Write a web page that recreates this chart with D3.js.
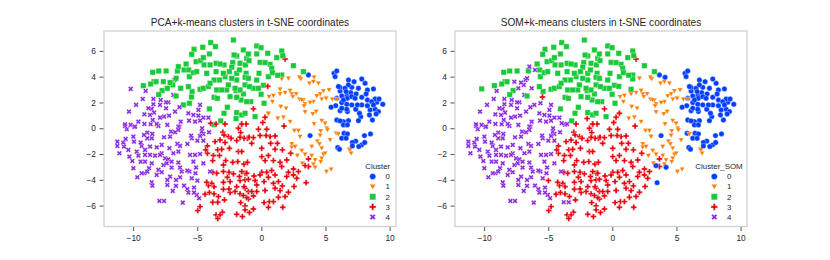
<!DOCTYPE html>
<html>
<head>
<meta charset="utf-8">
<script src="https://cdn.jsdelivr.net/npm/d3@7"></script>
<style>
	body { margin: 0; background: #fff; }
	text { font-family: "Liberation Sans", Arial, sans-serif; fill: #262626; }
</style>
</head>
<body>
<div id="chart"></div>
<script>

// t-SNE coordinates, grouped by PCA label then SOM label (pXsY)
const p0s0X = [3.67,5.88,5.67,5.75,6.79,7.23,7.83,8.09,6.79,6.01,6.14,6.53,7.05,7.57,8.74,8.27,6.14,6.61,6.97,7.39,8.17,6.27,6.66,7.05,5.88,6.40,6.71,7.31,7.83,8.27,8.87,9.18,9.47,9.00,8.61,6.27,6.66,7.05,7.49,7.83,8.27,8.74,5.80,5.44,6.27,6.66,7.36,8.48,8.87,9.13,8.95,7.65,8.43,7.75,6.14,6.71,8.66,7.57,5.88,6.14,6.40,6.79,6.71,6.40,3.80,6.45,6.71,6.27,6.61,8.04,8.51,7.36,7.10,8.06,7.83,7.10,7.60,5.96,6.09];
const p0s0Y = [4.13,4.44,4.26,4.00,3.74,3.61,3.82,3.49,3.36,3.23,3.17,3.10,3.17,3.10,3.05,2.97,2.89,2.84,2.76,2.66,2.66,2.50,2.50,2.45,2.32,2.19,2.32,2.32,2.40,2.19,2.27,2.27,1.86,2.01,2.06,1.99,1.86,1.81,1.81,1.81,1.75,1.81,1.75,1.63,1.55,1.47,1.47,1.42,1.47,1.29,1.11,1.16,1.03,0.90,1.36,1.29,0.64,0.59,0.64,0.57,0.51,0.59,0.26,0.26,-0.57,-0.39,-0.44,-0.78,-0.78,-0.57,-0.44,-1.00,-1.11,-1.11,-1.29,-1.37,-1.42,-1.50,-1.63];

const p1s1X = [2.11,2.97,3.07,3.75,4.06,4.45,5.28,4.84,4.58,4.32,4.71,5.05,5.54,5.88,1.85,2.24,2.37,2.45,2.71,2.97,3.28,0.94,0.60,1.46,0.86,3.15,3.41,3.80,4.06,3.33,1.51,1.93,3.41,0.55,4.27,4.01,1.72,1.28,2.24,4.71,4.97,4.11,5.10,5.15,2.58,2.89,3.02,4.63,4.58,6.00,5.36,4.37,4.53,2.37,2.63,2.37,3.93,4.71,3.15,3.41,2.81,3.93,4.97,4.84,4.71,4.63,4.19,3.20,4.06,5.07,5.44,6.92,7.00,6.84];
const p1s1Y = [3.87,3.95,3.82,3.49,3.61,3.49,2.97,2.89,2.66,2.50,2.25,2.32,2.25,2.27,2.76,2.92,2.66,2.45,2.66,2.25,2.19,2.53,2.45,2.66,2.06,2.19,1.88,1.99,2.06,1.73,1.68,1.55,1.26,1.10,1.29,1.11,0.85,0.77,0.51,0.59,0.38,0.33,0.00,-0.13,-0.18,-0.18,-0.65,-0.21,-0.55,-0.45,-0.91,-1.00,-1.22,-1.22,-1.42,-1.48,-1.42,-1.55,-1.73,-2.02,-2.12,-2.12,-1.94,-2.02,-2.33,-2.59,-2.46,-2.72,-2.79,-3.36,-3.18,-1.68,-1.94,-1.63];

const p2s2X = [-2.18,-3.95,-3.58,-4.57,-5.25,-5.43,-4.05,-4.52,-2.13,-1.40,-1.92,-1.14,-5.09,-4.73,-5.87,-4.47,-4.00,-3.53,-3.22,-2.91,-2.23,-2.31,-1.66,-1.24,-1.71,-1.19,-8.47,-8.00,-7.43,-6.55,-5.66,-5.30,-5.04,-4.26,-3.53,-2.96,-2.49,-1.92,-5.61,-8.37,-8.63,-9.20,-8.21,-5.69,-8.00,-7.74,-6.65,-5.40,-4.05,-4.78,-4.52,-4.13,-3.69,-3.27,-2.83,-2.31,-1.92,-2.57,-2.05,-1.27,-3.48,-3.09,-2.70,-1.97,-3.69,-3.43,-2.44,-1.92,-1.14,-1.40,-2.65,-2.91,-1.92,-1.27,-3.17,-4.00,-0.36,-0.02,0.50,1.59,1.67,1.20,-0.36,-1.01,-0.96,-0.10,0.29,0.68,0.81,0.86,-0.18,1.28,1.59,0.55,-0.36,-1.01,-1.27,2.50,3.28,0.16,-0.23,-0.62,-0.93,-0.02,-1.66,-0.83,0.21,-1.58,-1.53,-0.49];
const p2s2Y = [6.84,6.64,6.33,6.28,6.12,5.73,5.76,5.48,5.68,6.07,5.60,5.42,5.16,5.24,4.98,4.91,4.91,5.04,4.98,4.91,5.09,4.73,5.04,4.91,4.52,4.26,4.34,4.44,4.44,4.44,4.52,4.31,4.39,4.26,4.39,4.26,4.39,4.26,4.00,3.61,3.43,3.30,3.61,3.23,2.61,2.92,2.50,2.85,1.50,3.02,3.10,3.23,3.74,3.74,4.00,3.87,3.74,3.36,3.10,3.36,2.97,2.97,2.97,2.92,2.40,2.32,2.45,2.40,2.06,2.66,1.63,1.16,1.21,1.16,0.57,3.49,6.38,6.25,5.81,5.99,5.63,5.48,5.76,5.76,5.24,5.11,5.09,4.96,4.65,4.31,4.26,4.11,4.13,4.00,3.74,3.87,3.95,4.85,4.39,3.33,3.10,3.10,3.23,2.63,2.97,2.06,1.94,2.19,1.03,0.90];

const p3s3X = [-3.00,-2.91,-3.61,-3.22,-2.57,-2.36,-1.61,-1.66,-1.09,-1.92,-2.83,-4.21,-4.34,-4.21,-3.40,-3.09,-2.49,-1.53,-1.79,-3.74,-3.27,-3.79,-2.78,-2.96,-2.23,-1.84,-1.35,-1.09,-3.79,-3.48,-2.96,-2.52,-2.18,-1.53,-1.27,-2.65,-1.71,-2.96,-2.44,-1.27,-1.66,-4.26,-3.87,-3.69,-4.13,-2.96,-2.52,-1.92,-1.35,-4.05,-4.39,-3.69,-2.44,-2.05,-1.66,-1.01,-3.35,-2.88,-1.14,-1.61,-1.27,-4.78,-4.96,-3.04,-3.22,-3.53,-3.40,-1.92,-1.48,0.11,-0.23,-0.10,-0.62,-0.96,-1.35,-0.75,0.37,0.68,1.07,1.25,0.73,0.03,1.64,1.07,2.29,0.55,0.03,3.67,0.29,0.94,1.46,1.98,3.67,1.59,-1.35,0.81,0.42,0.03,2.11,2.50,2.89,2.50,1.98,2.76,1.07,0.55,-0.10,-0.57,-1.14,-1.01,-0.49,0.21,1.33,1.64,2.55,0.94,1.07,-0.36,-0.75,-0.36,0.29,1.46,2.11,1.85,1.33,-1.27,-1.40,-0.62,-1.01,0.21,0.63,0.94,0.55,1.67,-0.62,-0.93,-1.27,1.85,-0.62,0.29,-1.19,-1.53,1.77,0.42,-2.83,-1.79,-1.53];
const p3s3Y = [-0.31,-0.52,-1.04,-0.91,-0.65,-0.78,-0.34,-0.70,-0.78,-0.96,-1.11,-1.37,-1.68,-1.94,-1.68,-1.63,-1.55,-1.81,-1.81,-2.12,-2.12,-2.51,-2.51,-2.85,-2.64,-2.59,-2.79,-2.64,-3.41,-3.49,-3.36,-3.41,-3.54,-3.36,-3.49,-3.80,-3.75,-4.19,-4.14,-4.01,-4.06,-4.19,-4.27,-4.53,-4.45,-4.73,-4.71,-4.53,-4.53,-4.99,-5.12,-5.09,-4.99,-4.91,-5.09,-4.91,-5.30,-5.56,-5.38,-5.77,-6.02,-6.08,-6.39,-6.51,-6.72,-6.72,-7.00,-6.67,-6.85,0.44,-0.08,-0.57,-0.73,-0.70,-0.78,-1.17,-0.57,-0.65,-0.60,-1.17,-1.17,-1.55,-1.68,-1.63,-1.94,-2.12,-2.20,-2.38,-2.51,-2.51,-2.64,-2.46,-2.97,-2.97,-2.77,-3.28,-3.41,-3.41,-3.41,-3.16,-3.36,-3.62,-3.75,-3.88,-3.62,-3.80,-3.62,-3.70,-3.49,-3.96,-4.06,-4.14,-4.14,-4.47,-4.52,-4.27,-4.65,-4.40,-4.91,-4.91,-4.83,-4.84,-4.96,-5.30,-5.35,-4.65,-5.22,-5.25,-5.48,-5.77,-5.69,-5.69,-6.13,-6.13,-6.26,-6.54,-6.33,5.37,1.50,0.85,0.33,0.33,0.17,-0.08,0.33,0.00,0.31];

const p4s4X = [-9.02,-9.25,-9.77,-10.32,-8.42,-7.85,-7.43,-7.25,-6.86,-6.78,-8.42,-8.81,-9.12,-8.55,-8.37,-7.90,-7.43,-6.73,-6.39,-8.68,-7.90,-7.59,-7.20,-5.69,-4.91,-4.78,-5.30,-4.91,-4.52,-4.13,-9.59,-10.63,-10.19,-9.90,-9.12,-8.63,-8.47,-8.16,-7.33,-6.29,-6.39,-5.64,-5.17,-4.78,-4.62,-10.63,-9.85,-8.03,-6.47,-10.50,-6.47,-6.73,-7.04,-7.12,-7.59,-8.89,-8.50,-9.15,-8.89,-8.55,-9.98,-9.93,-10.58,-10.76,-11.23,-11.23,-10.71,-11.07,-10.37,-9.72,-9.59,-10.29,-10.06,-9.98,-9.41,-9.33,-9.07,-8.68,-8.16,-7.77,-9.07,-8.68,-8.29,-7.77,-7.90,-9.41,-9.07,-8.55,-7.17,-6.86,-6.55,-6.34,-5.77,-6.47,-5.48,-5.43,-4.99,-4.65,-4.52,-4.08,-4.52,-4.78,-5.56,-5.17,-4.78,-5.30,-4.52,-5.09,-7.51,-7.25,-7.64,-7.00,-7.38,-6.47,-6.34,-7.00,-6.21,-5.77,-5.61,-5.14,-8.03,-7.77,-8.16,-8.89,-9.33,-9.12,-9.67,-8.76,-7.12,-7.33,-6.65,-6.34,-5.43,-8.55,-8.50,-7.33,-6.65,-6.03,-5.77,-6.91,-5.25,-5.69,-5.25,-5.04,-4.86,-7.95,-7.59,-6.13,-4.00];
const p4s4Y = [2.89,2.27,1.81,1.29,2.27,2.19,2.01,2.01,2.58,3.74,1.86,1.55,1.08,1.50,1.21,1.81,1.55,1.29,1.63,1.03,0.82,0.90,0.98,1.16,1.42,1.81,1.03,0.98,0.82,0.82,0.51,0.31,0.26,0.10,0.33,0.31,0.64,0.33,0.26,0.51,0.12,0.59,0.51,0.59,0.00,0.18,0.13,0.18,0.13,-0.08,-0.13,-0.31,-0.26,-0.65,-0.70,-0.34,-0.44,-0.52,-0.78,-0.78,-0.65,-1.04,-0.83,-1.11,-1.04,-1.37,-1.42,-1.94,-1.68,-1.81,-2.12,-2.20,-2.54,-3.10,-1.11,-1.37,-1.68,-1.42,-1.48,-1.29,-2.07,-2.07,-2.12,-1.94,-2.07,-2.59,-2.59,-2.72,-1.55,-1.94,-1.22,-1.37,-1.22,-1.81,-0.57,-0.78,-0.96,-0.26,-0.44,-0.31,-0.96,-0.60,-2.07,-2.07,-2.00,-2.59,-2.72,-3.05,-2.33,-2.41,-2.85,-2.59,-2.72,-2.66,-3.05,-3.05,-3.36,-3.28,-3.36,-3.49,-3.23,-3.41,-3.62,-3.36,-3.49,-3.49,-3.80,-3.10,-3.75,-4.01,-4.01,-3.80,-3.88,-4.19,-4.45,-4.40,-4.47,-4.45,-4.73,-4.86,-4.60,-4.99,-4.99,-5.17,-5.43,-5.64,-5.64,-5.77,-3.36];

// points the two clusterings disagree on
const p1s0X = [4.11,5.83,4.19];
const p1s0Y = [3.95,-0.39,-3.03];
const p1s2X = [1.59,1.46];
const p1s2Y = [3.82,3.02];
const p1s3X = [0.55];
const p1s3Y = [1.16];
const p2s3X = [-5.45,-1.97];
const p2s3Y = [2.42,0.75];
const p2s4X = [-6.47,-6.03,-6.65,-7.64,-7.12,-7.33,-6.91,-6.29,-6.08,-5.61,-3.69];
const p2s4Y = [4.78,4.52,3.87,3.61,3.54,3.10,3.36,3.10,1.81,1.94,0.28];
const p3s0X = [3.41,3.49];
const p3s0Y = [-2.90,-4.22];
const p3s2X = [0.50];
const p3s2Y = [3.25];
const p3s4X = [-3.95,-3.53,-3.79,-3.40];
const p3s4Y = [0.39,0.33,-5.74,-5.74];
const p4s2X = [-10.19];
const p4s2Y = [3.05];
const p4s3X = [-4.99];
const p4s3Y = [-4.06];

const clusterLabels = ['0','1','2','3','4'];
const clusterColors = ['#023eff','#ff7c00','#1ac938','#e8000b','#8b2be2'];
const xTicks = [-10,-5,0,5,10];
const yTicks = [-6,-4,-2,0,2,4,6];

const groups = [
	[0,0,p0s0X,p0s0Y],[1,1,p1s1X,p1s1Y],[2,2,p2s2X,p2s2Y],[3,3,p3s3X,p3s3Y],[4,4,p4s4X,p4s4Y],
	[1,0,p1s0X,p1s0Y],[1,2,p1s2X,p1s2Y],[1,3,p1s3X,p1s3Y],[2,3,p2s3X,p2s3Y],[2,4,p2s4X,p2s4Y],
	[3,0,p3s0X,p3s0Y],[3,2,p3s2X,p3s2Y],[3,4,p3s4X,p3s4Y],[4,2,p4s2X,p4s2Y],[4,3,p4s3X,p4s3Y]
];
const points = groups.flatMap(([pca,som,xs,ys]) => xs.map((x,i) => ({x, y:ys[i], pca, som})));
// mix the drawing order a bit, the way a dataframe would, without any randomness
points.sort((a,b) => ((a.x*97+a.y*131)%7) - ((b.x*97+b.y*131)%7));

const W = 830, H = 260;
const svg = d3.select('#chart').append('svg').attr('width', W).attr('height', H);

// marker paths: o, v, s, P, X
const markerPaths = [
	d3.symbol(d3.symbolCircle, 23)(),
	'M-2.6,-2L2.6,-2L0,2.6Z',
	d3.symbol(d3.symbolSquare, 30)(),
	d3.symbol(d3.symbolCross, 19)(),
	d3.symbol(d3.symbolCross, 17)()
];
const markerRotate = [0,0,0,0,45];

function marker(sel, cluster, scale){
	sel.attr('d', markerPaths[cluster])
		.style('fill', clusterColors[cluster])
		.style('stroke', '#fff')
		.style('stroke-width', 0.35);
}

function panel(opts){

	const xScale = d3.scaleLinear().domain([-12.27,10.5]).range([opts.left, opts.left+292]);
	const yScale = d3.scaleLinear().domain([-7.62,7.54]).range([226.5,31]);

	const g = svg.append('g');

	// points
	g.selectAll('.pt')
		.data(points)
		.enter()
		.append('path')
		.attr('class','pt')
		.attr('transform', d => `translate(${xScale(d.x)},${yScale(d.y)}) rotate(${markerRotate[d[opts.key]]})`)
		.each(function(d){ marker(d3.select(this), d[opts.key]); });

	// axes
	const xAxis = d3.axisBottom(xScale).tickValues(xTicks).tickSize(4.5).tickPadding(4)
		.tickFormat(d => String(d).replace('-','\u2212'));
	const yAxis = d3.axisLeft(yScale).tickValues(yTicks).tickSize(4.5).tickPadding(3.5)
		.tickFormat(d => String(d).replace('-','\u2212'));
	const ax = g.append('g').attr('transform','translate(0,226.5)').call(xAxis);
	const ay = g.append('g').attr('transform',`translate(${opts.left},0)`).call(yAxis);
	[ax,ay].forEach(a => {
		a.select('.domain').remove();
		a.selectAll('line').style('stroke','#262626').style('stroke-width',0.8);
		a.selectAll('text').style('font-size','8.4px').style('font-family','"Liberation Sans", Arial, sans-serif').style('fill','#262626');
	});

	// frame
	g.append('rect')
		.attr('x', opts.left).attr('y', 31)
		.attr('width', 292).attr('height', 195.5)
		.style('fill','none').style('stroke','#cfcfcf').style('stroke-width',1.25);

	g.append('text')
		.attr('x', opts.left+146).attr('y', 26)
		.attr('text-anchor','middle')
		.style('font-size','10.1px')
		.text(opts.title);

	// legend
	g.append('text')
		.attr('x', opts.legendTitleX).attr('y', 168.7)
		.attr('text-anchor','middle')
		.style('font-size','7.9px')
		.text(opts.legendTitle);
	const legendY = d3.scalePoint().domain(clusterLabels).range([176.5,217]);
	clusterLabels.forEach((label,i) => {
		g.append('path')
			.attr('transform', `translate(${opts.legendMarkX},${legendY(label)}) rotate(${markerRotate[i]}) scale(1.15)`)
			.call(marker, i);
		g.append('text')
			.attr('x', opts.legendMarkX+15).attr('y', legendY(label)+2.8)
			.attr('text-anchor','middle')
			.style('font-size','7.9px')
			.text(label);
	});
}

panel({key:'pca', left:104, title:'PCA+k-means clusters in t-SNE coordinates',
	legendTitle:'Cluster', legendTitleX:377.7, legendMarkX:372.7});
panel({key:'som', left:455, title:'SOM+k-means clusters in t-SNE coordinates',
	legendTitle:'Cluster_SOM', legendTitleX:719, legendMarkX:714.3});

</script>
</body>
</html>
